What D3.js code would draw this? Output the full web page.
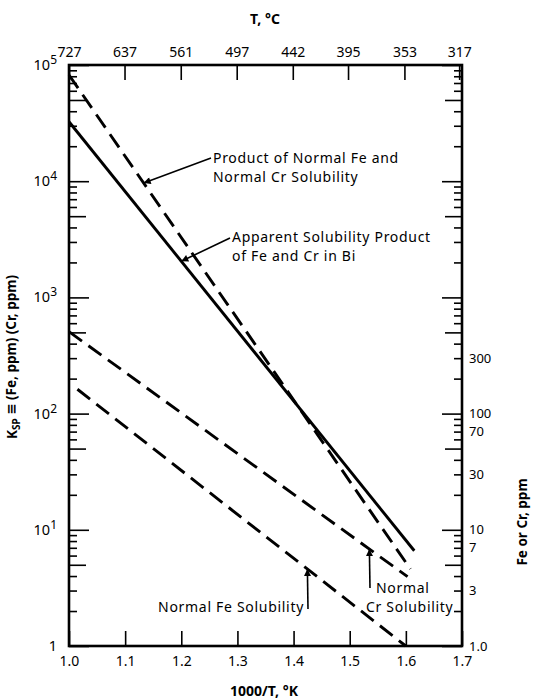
<!DOCTYPE html>
<html>
<head>
<meta charset="utf-8">
<script src="https://cdn.jsdelivr.net/npm/d3@7"></script>
<style>
  body { margin: 0; background: #fff; }
  svg { font-family: "Noto Sans", "DejaVu Sans", sans-serif; }
  .tick line { stroke: #000; stroke-width: 1.6; }
  .domain { display: none; }
</style>
</head>
<body>
<svg id="chart" width="534" height="700"></svg>
<script>
// ---- DATA -------------------------------------------------------------------
var xTicks = [1.0, 1.1, 1.2, 1.3, 1.4, 1.5, 1.6, 1.7];
var tempTicksC = [727, 637, 561, 497, 442, 395, 353, 317];
var yDecades = [1, 10, 100, 1000, 10000, 100000];
var rightLabels = [1, 3, 7, 10, 30, 70, 100, 300];

// series: x = 1000/T (K), y = ppm or ppm^2
var apparentX = [1.0, 1.615];
var apparentY = [32500, 6.6];
var productX = [1.0, 1.608];
var productY = [82000, 4.6];
var crX = [1.0, 1.603];
var crY = [507, 3.95];
var feX = [1.015, 1.6];
var feY = [162, 1.0];

// ---- SETUP ------------------------------------------------------------------
var svg = d3.select("#chart");
var mLeft = 69, mRight = 462, mTop = 65, mBottom = 646;

var x = d3.scaleLinear().domain([1.0, 1.7]).range([mLeft, mRight]);
var y = d3.scaleLog().domain([1, 100000]).range([mBottom, mTop]);

var minorVals = [], fiveVals = [];
yDecades.slice(0, -1).forEach(function(d) {
  for (var m = 2; m <= 9; m++) {
    if (m == 5) fiveVals.push(m * d); else minorVals.push(m * d);
  }
});

// Left / right axis ticks (pointing inward)
function leftTicks(vals, size) {
  svg.append("g").attr("transform", "translate(" + mLeft + ",0)")
    .call(d3.axisLeft(y).tickValues(vals).tickSize(-size).tickFormat(""));
}
function rightTicks(vals, size) {
  svg.append("g").attr("transform", "translate(" + mRight + ",0)")
    .call(d3.axisRight(y).tickValues(vals).tickSize(-size).tickFormat(""));
}
leftTicks(yDecades, 20); leftTicks(fiveVals, 17); leftTicks(minorVals, 8);
rightTicks(yDecades, 20); rightTicks(fiveVals, 17); rightTicks(minorVals, 8);

// Left labels 10^n
var leftLab = svg.append("g").attr("font-size", 14.5);
yDecades.forEach(function(d, i) {
  var t = leftLab.append("text")
    .attr("x", 57).attr("y", y(d)).attr("dy", "0.35em")
    .attr("text-anchor", "end");
  if (i == 0) { t.text("1"); return; }
  t.append("tspan").text("10");
  t.append("tspan").attr("font-size", 12).attr("dy", "-0.5em").text(i);
});

// Right labels
svg.append("g").selectAll("text").data(rightLabels).enter().append("text")
  .attr("x", 469).attr("y", function(d) { return y(d); }).attr("dy", "0.35em")
  .attr("font-size", 13)
  .text(function(d) { return d == 1 ? "1.0" : d; });

// Bottom axis
var bx = svg.append("g").attr("transform", "translate(0," + mBottom + ")")
  .call(d3.axisBottom(x).tickValues(xTicks).tickSize(-15).tickPadding(10)
    .tickFormat(d3.format(".1f")));
bx.selectAll("text").attr("font-size", 14).attr("fill", "#000").attr("font-family", "Noto Sans");

// Top axis: temperatures in C mapped to 1000/T(K)
var tx = svg.append("g").attr("transform", "translate(0," + mTop + ")")
  .call(d3.axisTop(x).tickValues(tempTicksC.map(function(t) { return 1000 / (t + 273); }))
    .tickSize(-15).tickPadding(8)
    .tickFormat(function(d, i) { return tempTicksC[i]; }));
tx.selectAll("text").attr("font-size", 14).attr("fill", "#000").attr("font-family", "Noto Sans");

// Frame
svg.append("rect").attr("x", mLeft).attr("y", mTop)
  .attr("width", mRight - mLeft).attr("height", mBottom - mTop)
  .attr("fill", "none").attr("stroke", "#000").attr("stroke-width", 2.6);

// ---- SERIES -----------------------------------------------------------------
var line = d3.line().x(function(d) { return x(d[0]); }).y(function(d) { return y(d[1]); });
function drawSeries(xs, ys, dashed) {
  svg.append("path").datum(d3.zip(xs, ys))
    .attr("d", line).attr("fill", "none").attr("stroke", "#000")
    .attr("stroke-width", 2.9)
    .attr("stroke-dasharray", dashed ? "16,8" : null);
}
drawSeries(apparentX, apparentY, false);
drawSeries(productX, productY, true);
drawSeries(crX, crY, true);
drawSeries(feX, feY, true);

// point on a series (log-linear interpolation) at given x
function onSeries(xs, ys, xv) {
  var f = (xv - xs[0]) / (xs[1] - xs[0]);
  var lv = Math.log10(ys[0]) + f * (Math.log10(ys[1]) - Math.log10(ys[0]));
  return [x(xv), y(Math.pow(10, lv))];
}

// ---- ANNOTATIONS ------------------------------------------------------------
svg.append("defs").append("marker").attr("id", "arr")
  .attr("viewBox", "0 0 10 10").attr("refX", 10).attr("refY", 5)
  .attr("markerWidth", 9).attr("markerHeight", 7).attr("orient", "auto")
  .attr("markerUnits", "userSpaceOnUse")
  .append("path").attr("d", "M0,0 L10,5 L0,10 Z").attr("fill", "#000");

function arrow(x0, y0, tip) {
  svg.append("line").attr("x1", x0).attr("y1", y0)
    .attr("x2", tip[0]).attr("y2", tip[1])
    .attr("stroke", "#000").attr("stroke-width", 1.6)
    .attr("marker-end", "url(#arr)");
}
function label(lines, x0, y0, anchor) {
  lines.forEach(function(s, i) {
    svg.append("text").attr("x", x0).attr("y", y0 + i * 19)
      .attr("font-size", 14).attr("letter-spacing", 0.7)
      .attr("text-anchor", anchor || "start").text(s);
  });
}

arrow(211, 158, onSeries(productX, productY, 1.133));
label(["Product of Normal Fe and", "Normal Cr Solubility"], 213, 163);

arrow(230, 238, onSeries(apparentX, apparentY, 1.2));
label(["Apparent Solubility Product", "of Fe and Cr in Bi"], 232, 242);

arrow(308, 609, onSeries(feX, feY, 1.4246));
label(["Normal Fe Solubility"], 304, 612, "end");

arrow(370, 588, onSeries(crX, crY, 1.535));
label(["Normal"], 376, 593);
label(["Cr Solubility"], 366, 612);

// ---- AXIS TITLES ------------------------------------------------------------
svg.append("text").attr("x", 265).attr("y", 24).attr("text-anchor", "middle")
  .attr("font-size", 14).attr("font-weight", "bold").text("T, °C");
svg.append("text").attr("x", 264).attr("y", 696).attr("text-anchor", "middle")
  .attr("font-size", 14).attr("font-weight", "bold").text("1000/T, °K");

var lt = svg.append("text").attr("text-anchor", "middle")
  .attr("transform", "translate(17,357) rotate(-90)")
  .attr("font-size", 13.5).attr("font-weight", "bold");
lt.append("tspan").text("K");
lt.append("tspan").attr("font-size", 10).attr("dy", "0.25em").text("SP");
lt.append("tspan").attr("dy", "-0.25em").text(" \u2261 (Fe, ppm) (Cr, ppm)");

svg.append("text").attr("text-anchor", "middle")
  .attr("transform", "translate(527,522) rotate(-90)")
  .attr("font-size", 13.5).attr("font-weight", "bold").text("Fe or Cr, ppm");
</script>
</body>
</html>
